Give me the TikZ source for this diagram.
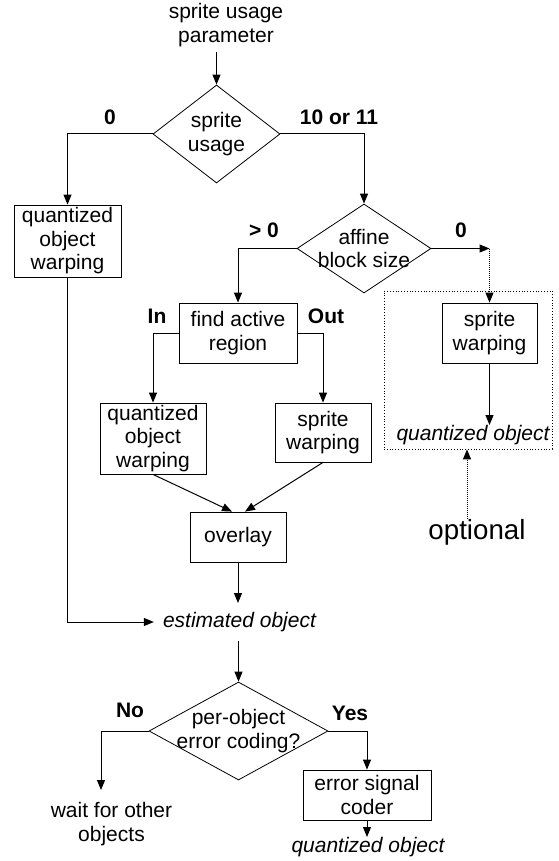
\documentclass[tikz,border=0pt]{standalone}
\usepackage{fontspec}
\setmainfont{Liberation Sans}
\usetikzlibrary{arrows.meta,shapes.geometric}
\begin{document}
\begin{tikzpicture}[x=1pt,y=-1pt,
  every node/.style={font=\fontsize{21}{23.5}\selectfont, inner sep=0pt},
  box/.style={draw, line width=0.8pt, align=center},
  dia/.style={draw, diamond, line width=0.8pt},
  txt/.style={align=center},
  lbl/.style={font=\fontsize{21}{23.5}\selectfont\bfseries},
  itx/.style={font=\fontsize{21}{23.5}\selectfont\itshape},
  arr/.style={line width=1pt, -{Triangle[length=10pt,width=8pt]}},
  dotarr/.style={line width=1pt, densely dotted, -{Triangle[length=10pt,width=8pt]}}
]
\useasboundingbox (0,0) rectangle (558,861);
% title
\node[txt] (title) at (226,25) {sprite usage\\parameter};
% diamonds
\node[dia, minimum width=127pt, minimum height=98pt] (d1) at (216.5,134) {};
\node[txt] (d1t) at (d1) {sprite\\usage};
\node[dia, minimum width=134pt, minimum height=89pt] (d2) at (364,248.5) {};
\node[txt] (d2t) at (d2) {affine\\block size};
\node[dia, minimum width=179pt, minimum height=98pt] (d3) at (238.5,731) {};
\node[txt] (d3t) at (d3) {per-object\\error coding?};
% boxes
\node[box, minimum width=107pt, minimum height=72pt] (q1) at (67.5,241) {quantized\\object\\warping};
\node[box, minimum width=118pt, minimum height=60pt] (far) at (238,333) {find active\\region};
\node[box, minimum width=106pt, minimum height=71pt] (q2) at (153,438.5) {quantized\\object\\warping};
\node[box, minimum width=96pt, minimum height=59pt] (sw1) at (323,432.5) {sprite\\warping};
\node[box, minimum width=96pt, minimum height=50pt] (ov) at (238,537) {overlay};
\node[box, minimum width=95pt, minimum height=60pt] (sw2) at (489.5,333) {sprite\\warping};
\node[box, minimum width=128pt, minimum height=50pt] (esc) at (367,795) {error signal\\coder};
% optional dotted frame
\node[draw, line width=0.8pt, dotted, minimum width=168pt, minimum height=158pt] (opt) at (468,370) {};
% text nodes
\node[itx] (qo1) at (473,435) {quantized object};
\node[itx, inner xsep=9pt, inner ysep=9pt] (est) at (239.5,622) {estimated object};
\node[itx] (qo2) at (368,847) {quantized object};
\node[txt] (wait) at (111.5,824) {wait for other\\objects};
\node[font=\fontsize{27.7}{30}\selectfont] (optional) at (477,532) {optional};
% labels
\node[lbl] (l0) at (110,117) {0};
\node[lbl] (l1011) at (339,117) {10 or 11};
\node[lbl] (lgt) at (264,230) {> 0};
\node[lbl] (lz) at (461,230) {0};
\node[lbl] (lin) at (157,316) {In};
\node[lbl] (lout) at (326,316) {Out};
\node[lbl] (lno) at (130,710) {No};
\node[lbl] (lyes) at (350,713) {Yes};
% coordinates
\coordinate (c0) at (489.5,248.5);
\coordinate (w0) at (101,790);
% connectors
\draw[arr, shorten <=5.5pt] (title.south -| d1.north) -- (d1.north);
\draw[arr] (d1.west) -| (q1.north);
\draw[arr] (d1.east) -| (d2.north);
\draw[arr] (q1.south) |- (est.west);
\draw[arr] (d2.west) -| (far.north);
\draw[arr] (d2.east) -- (c0);
\draw[dotarr] (c0) -- (sw2.north);
\draw[arr] (far.west) -| (q2.north);
\draw[arr] (far.east) -| (sw1.north);
\draw[arr] (q2.south) -- ([xshift=-6pt]ov.north);
\draw[arr] (sw1.south) -- ([xshift=7pt]ov.north);
\draw[arr] (ov.south) -- (ov.south |- est.north);
\draw[arr] (est.south -| d3.north) -- (d3.north);
\draw[arr] (d3.west) -| (w0);
\draw[arr] (d3.east) -| (esc.north);
\draw[arr] (esc.south) -- (esc.south |- qo2.north);
\draw[arr] (sw2.south) -- (sw2.south |- qo1.north);
\draw[dotarr] ([xshift=-10pt]optional.north) -- ([xshift=-10pt]optional.north |- opt.south);
\end{tikzpicture}
\end{document}
